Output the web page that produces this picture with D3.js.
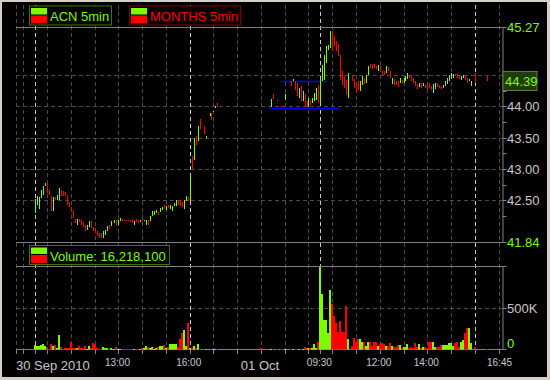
<!DOCTYPE html>
<html><head><meta charset="utf-8">
<script src="https://cdn.jsdelivr.net/npm/d3@7"></script>
<style>
html,body{margin:0;padding:0;background:#d4d0c8;}
svg{display:block;font-family:"Liberation Sans",Arial,sans-serif;}
</style>
</head><body>
<svg id="chart" width="550" height="380"></svg>
<script>
// ---------- DATA ----------
// 5-minute slots on a compressed session timeline (slot 0 = 30 Sep 09:30, slot 144 = 01 Oct 09:30)
const barSlots = [
  0,1,2,3,4,5,6,7,8,9,10,11,12,13,14,15,16,17,18,19,20,21,22,23,24,25,26,27,28,29,30,31,32,33,34,35,36,37,38,
  40,41,42,43,44,45,46,47,48,49,50,51,52,53,54,55,56,57,58,59,60,61,62,63,64,65,66,67,68,69,70,71,72,73,74,75,76,77,78,
  79,80,81,82,83,85,86,88,89,90,91,92,114,
  119,120,122,124,125,126,129,130,131,132,133,134,135,136,137,138,139,140,141,142,143,
  144,145,146,147,148,149,150,151,152,153,154,155,156,157,158,160,161,162,163,
  164,165,166,167,168,169,170,171,172,173,174,175,176,177,178,179,180,181,182,183,184,185,186,187,188,189,190,
  191,192,193,194,195,196,197,198,199,200,201,202,203,204,205,206,207,208,209,210,211,212,213,214,215,216,217,218,219,220,222,228
];
const barHigh = [
  42.52,42.56,42.55,42.67,42.73,42.78,42.78,42.67,42.56,42.55,42.55,42.59,42.70,42.67,42.64,42.63,42.59,42.47,42.39,42.35,42.20,42.20,42.20,42.18,42.15,42.11,42.10,42.16,42.16,42.07,42.06,42.00,41.98,41.97,42.00,42.03,42.08,42.11,42.16,
  42.18,42.19,42.18,42.22,42.20,42.18,42.18,42.18,42.19,42.20,42.16,42.20,42.18,42.18,42.20,42.18,42.19,42.18,42.25,42.32,42.32,42.34,42.31,42.38,42.39,42.43,42.41,42.43,42.43,42.40,42.46,42.51,42.51,42.50,42.47,42.51,42.56,42.55,42.93,
  43.21,43.49,43.52,43.69,43.80,43.69,43.52,43.90,43.90,43.93,44.00,44.05,43.55,
  44.12,44.20,44.10,44.01,44.01,44.20,44.40,44.44,44.40,44.37,44.29,44.32,44.25,44.20,44.09,44.13,44.10,44.13,44.21,44.29,44.35,
  44.44,44.66,44.82,44.96,44.98,45.21,45.20,45.13,45.05,45.00,44.82,44.56,44.48,44.42,44.54,44.48,44.44,44.37,44.41,
  44.40,44.48,44.45,44.50,44.65,44.68,44.68,44.68,44.65,44.66,44.64,44.57,44.57,44.64,44.63,44.57,44.45,44.44,44.41,44.40,44.45,44.42,44.45,44.48,44.54,44.50,44.50,
  44.45,44.40,44.36,44.37,44.37,44.37,44.34,44.36,44.37,44.33,44.36,44.37,44.37,44.34,44.33,44.34,44.41,44.45,44.50,44.53,44.52,44.52,44.52,44.50,44.48,44.50,44.50,44.45,44.44,44.40,44.54,44.48
];
const barLow = [
  42.30,42.43,42.36,42.54,42.59,42.72,42.61,42.59,42.32,42.32,42.50,42.51,42.51,42.57,42.56,42.56,42.43,42.39,42.32,42.22,42.14,42.10,42.15,42.10,42.07,42.00,42.02,42.07,42.06,42.00,41.98,41.93,41.90,41.90,41.90,41.95,42.00,42.04,42.08,
  42.13,42.08,42.11,42.16,42.16,42.17,42.17,42.17,42.15,42.14,42.11,42.15,42.14,42.15,42.16,42.17,42.11,42.11,42.16,42.24,42.27,42.29,42.27,42.31,42.35,42.36,42.35,42.38,42.36,42.32,42.40,42.41,42.43,42.40,42.39,42.36,42.48,42.48,42.48,
  43.00,43.14,43.39,43.44,43.64,43.56,43.50,43.84,43.79,43.92,43.98,43.99,43.52,
  43.99,44.12,44.09,43.99,43.99,44.11,44.32,44.40,44.27,44.16,44.13,44.08,44.08,43.99,43.99,43.99,44.03,44.05,44.08,44.11,44.05,
  44.03,44.40,44.43,44.69,44.90,44.93,44.89,44.96,44.88,44.80,44.43,44.35,44.29,44.19,44.13,44.40,44.29,44.21,44.27,
  44.25,44.34,44.36,44.37,44.50,44.61,44.60,44.61,44.60,44.57,44.56,44.49,44.50,44.54,44.56,44.45,44.36,44.35,44.35,44.31,44.37,44.36,44.38,44.40,44.44,44.45,44.41,
  44.37,44.33,44.28,44.31,44.29,44.32,44.29,44.28,44.29,44.27,44.22,44.28,44.31,44.29,44.28,44.29,44.32,44.36,44.40,44.44,44.45,44.48,44.45,44.44,44.42,44.45,44.42,44.37,44.40,44.33,44.38,44.40
];
// 1 = up bar (green), 0 = down bar (red)
const barUp = [
  1,1,1,1,1,1,0,0,0,1,0,1,1,0,0,0,0,0,0,0,0,1,0,0,0,0,1,1,0,0,0,0,0,0,1,1,1,0,1,
  1,0,1,1,0,0,0,0,0,0,1,0,0,1,0,1,1,0,1,1,1,1,0,1,1,0,1,0,1,1,1,1,0,0,0,1,1,0,1,
  0,1,0,1,0,0,1,1,0,1,1,0,0,
  1,0,0,0,0,1,0,1,0,0,1,0,1,0,0,1,0,1,1,1,0,
  1,1,1,1,1,1,0,0,0,0,0,0,0,0,1,0,0,0,0,
  1,1,0,1,1,0,0,0,0,1,0,0,0,1,0,0,1,0,0,0,1,0,1,1,1,0,0,
  0,0,0,1,0,1,0,0,0,0,1,1,0,0,0,1,1,1,1,1,1,0,0,0,1,1,0,0,1,1,0,0
];
// volume per bar, thousands of shares
const barVolume = [
  54,42,48,54,66,42,26,10,66,42,54,18,175,26,10,18,18,18,94,18,18,18,42,18,18,42,10,42,18,78,66,18,10,10,30,18,18,10,18,
  10,26,6,10,10,6,10,6,6,6,6,10,6,6,18,18,42,26,18,26,6,18,30,42,42,54,18,30,66,66,66,66,30,123,203,235,42,323,18,
  18,42,18,66,6,5,5,5,5,5,5,5,15,
  5,5,5,5,5,10,5,5,5,5,5,5,5,27,20,20,20,20,66,20,90,
  1000,669,355,355,203,717,548,404,323,215,347,215,215,524,127,42,142,90,127,
  127,90,90,42,90,90,42,90,90,42,62,82,62,42,42,74,42,26,26,54,54,14,26,26,66,14,26,
  14,74,26,66,14,26,34,14,86,86,86,26,26,26,54,54,54,54,74,82,42,74,94,34,94,115,203,263,263,74,26,10
];
// reference lines drawn on the price panel (MONTHS levels)
const levelPrice = [43.97, 44.40];
const levelFrom  = [118.5, 124.0];
const levelTo    = [153.4, 147.3];

const hourGridSlots   = [-9.75,-6,6,18,30,42,54,66,90,102,114,126,138,150,162,174,186,198,210,234];
const sessionGridSlots = [0,78,144,222];
const priceGridTicks  = [42.5,43.0,43.5,44.0,44.5];
const priceMinorTicks = [42.25,42.75,43.25,43.75,44.25];
const priceBounds     = [41.84,45.27];
const lastPrice       = 44.39;
const volGridTicks    = [500];
const timeTickSlots   = [-9.75,42,78,114,144,174,198,235];
const timeTickLabels  = ["30 Sep 2010","13:00","16:00","01 Oct","09:30","12:00","14:00","16:45"];
const timeTickBig     = [1,0,0,1,0,0,0,0];
const totalVolumeText = "Volume: 16,218,100";

// ---------- CHART ----------
const GREEN = "#7cfc00", RED = "#ff0000";
const svg = d3.select("#chart");
svg.append("rect").attr("x",0).attr("y",0).attr("width",550).attr("height",380).attr("fill","#d4d0c8");
svg.append("rect").attr("x",2).attr("y",2).attr("width",545).attr("height",375).attr("fill","#000");

const left = 16, right = 502.5;
const x = d3.scaleLinear().domain([-9.75, 236]).range([left, right]);
const yP = d3.scaleLinear().domain(priceBounds).range([241.5, 27]);
const yV = d3.scaleLinear().domain([0, 1000]).range([349.5, 266.5]);

const g = svg.append("g");

// vertical grid
g.selectAll("line.hg").data(hourGridSlots).join("line")
  .attr("x1", d => Math.round(x(d)) + 0.5).attr("x2", d => Math.round(x(d)) + 0.5)
  .attr("y1", 5).attr("y2", 349)
  .attr("stroke", "#4a4a4a").attr("stroke-dasharray", "4,3");
g.selectAll("line.sg").data(sessionGridSlots).join("line")
  .attr("x1", d => Math.round(x(d)) + 0.5).attr("x2", d => Math.round(x(d)) + 0.5)
  .attr("y1", 5).attr("y2", 349)
  .attr("stroke", "#c8c8c8").attr("stroke-dasharray", "4,3");

// horizontal grid
g.selectAll("line.pg").data(priceGridTicks).join("line")
  .attr("x1", left).attr("x2", right)
  .attr("y1", d => Math.round(yP(d)) + 0.5).attr("y2", d => Math.round(yP(d)) + 0.5)
  .attr("stroke", "#4a4a4a").attr("stroke-dasharray", "4,3");
g.selectAll("line.vg").data(volGridTicks).join("line")
  .attr("x1", left).attr("x2", right)
  .attr("y1", d => Math.round(yV(d)) + 0.5).attr("y2", d => Math.round(yV(d)) + 0.5)
  .attr("stroke", "#4a4a4a").attr("stroke-dasharray", "4,3");

// solid frame lines
const solid = "#808080";
priceBounds.forEach(p => {
  const yy = Math.round(yP(p)) + 0.5;
  g.append("line").attr("x1", left).attr("x2", right + 4).attr("y1", yy).attr("y2", yy).attr("stroke", solid);
});
g.append("line").attr("x1", left).attr("x2", right + 4).attr("y1", 266.5).attr("y2", 266.5).attr("stroke", solid);
g.append("line").attr("x1", left).attr("x2", right + 4).attr("y1", 349.5).attr("y2", 349.5).attr("stroke", solid);
g.append("line").attr("x1", right + 0.5).attr("x2", right + 0.5).attr("y1", 27).attr("y2", 242).attr("stroke", solid);
g.append("line").attr("x1", right + 0.5).attr("x2", right + 0.5).attr("y1", 266).attr("y2", 350).attr("stroke", solid);

// price axis ticks
g.selectAll("line.pt").data(priceGridTicks.concat(priceMinorTicks)).join("line")
  .attr("x1", right).attr("x2", right + 4)
  .attr("y1", d => Math.round(yP(d)) + 0.5).attr("y2", d => Math.round(yP(d)) + 0.5)
  .attr("stroke", solid);
g.selectAll("line.vt").data(volGridTicks).join("line")
  .attr("x1", right).attr("x2", right + 4)
  .attr("y1", d => Math.round(yV(d)) + 0.5).attr("y2", d => Math.round(yV(d)) + 0.5)
  .attr("stroke", solid);

// time axis ticks
g.selectAll("line.tt").data(hourGridSlots.concat(sessionGridSlots)).join("line")
  .attr("x1", d => Math.round(x(d)) + 0.5).attr("x2", d => Math.round(x(d)) + 0.5)
  .attr("y1", 350).attr("y2", 354).attr("stroke", solid);

// blue level lines
g.selectAll("line.lv").data(levelPrice).join("line")
  .attr("x1", (d, i) => x(levelFrom[i])).attr("x2", (d, i) => x(levelTo[i]))
  .attr("y1", d => Math.round(yP(d)) + 0.5).attr("y2", d => Math.round(yP(d)) + 0.5)
  .attr("stroke", "#0000ff").attr("stroke-width", 1.3);

// price bars
g.selectAll("rect.pb").data(barSlots).join("rect")
  .attr("x", d => Math.round(x(d)))
  .attr("width", 1)
  .attr("y", (d, i) => Math.round(yP(barHigh[i])))
  .attr("height", (d, i) => Math.max(1, Math.round(yP(barLow[i])) - Math.round(yP(barHigh[i]))))
  .attr("fill", (d, i) => barUp[i] ? GREEN : RED);

// volume bars
g.selectAll("rect.vb").data(barSlots).join("rect")
  .attr("x", d => Math.round(x(d)) - 1)
  .attr("width", 2)
  .attr("y", (d, i) => Math.round(yV(Math.min(barVolume[i], 1000))))
  .attr("height", (d, i) => Math.max(1, 349.5 - Math.round(yV(Math.min(barVolume[i], 1000)))))
  .attr("fill", (d, i) => barUp[i] ? GREEN : RED);

// price labels
const ly = yP(lastPrice);
const boxTop = Math.round(ly) - 10.5;
svg.append("defs").append("clipPath").attr("id", "aboveBox")
  .append("rect").attr("x", 503).attr("y", 0).attr("width", 47).attr("height", boxTop);
const lab = g.append("g").attr("font-size", 13);
lab.selectAll("text.pl").data(priceGridTicks).join("text")
  .attr("x", 507).attr("y", d => yP(d) + 5)
  .attr("clip-path", d => Math.abs(yP(d) - ly) < 12 ? "url(#aboveBox)" : null)
  .attr("fill", "#c8c8c8").text(d => d.toFixed(2));
lab.selectAll("text.pb").data(priceBounds).join("text")
  .attr("x", 507).attr("y", d => yP(d) + 5)
  .attr("fill", GREEN).text(d => d.toFixed(2));
// last price box
lab.append("rect").attr("x", 503).attr("y", boxTop).attr("width", 34).attr("height", 19)
  .attr("fill", "#203c00").attr("stroke", "#5a7a40");
lab.append("text").attr("x", 505).attr("y", ly + 4).attr("fill", GREEN).text(lastPrice.toFixed(2));
// volume labels
lab.selectAll("text.vl").data(volGridTicks).join("text")
  .attr("x", 507).attr("y", d => yV(d) + 5)
  .attr("fill", "#c8c8c8").text(d => d + "K");
lab.append("text").attr("x", 507).attr("y", 348).attr("fill", GREEN).text("0");

// time labels
lab.selectAll("text.tl").data(timeTickSlots).join("text")
  .attr("x", (d, i) => i === 0 ? x(d) : x(d) - 1)
  .attr("y", (d, i) => timeTickBig[i] ? 369.5 : 366)
  .attr("text-anchor", (d, i) => i === 0 ? "start" : "middle")
  .attr("font-size", (d, i) => timeTickBig[i] ? 13 : 10)
  .attr("fill", "#c8c8c8")
  .text((d, i) => timeTickLabels[i]);

// legends
function legend(x0, y0, w, border, textColor, label) {
  const lg = g.append("g");
  lg.append("rect").attr("x", x0 + 0.5).attr("y", y0 + 0.5).attr("width", w).attr("height", 19)
    .attr("fill", "#000").attr("stroke", border);
  lg.append("rect").attr("x", x0 + 2).attr("y", y0 + 2.5).attr("width", 16).attr("height", 6.5).attr("fill", GREEN);
  lg.append("rect").attr("x", x0 + 2).attr("y", y0 + 10).attr("width", 16).attr("height", 8).attr("fill", RED);
  lg.append("text").attr("x", x0 + 21).attr("y", y0 + 15.5).attr("font-size", 13).attr("fill", textColor).text(label);
}
legend(29, 5.5, 82, "#3c7800", GREEN, "ACN 5min");
legend(129, 5.5, 111, "#800000", RED, "MONTHS 5min");
legend(29, 245, 140, "#3c7800", GREEN, totalVolumeText);
</script>
</body></html>
